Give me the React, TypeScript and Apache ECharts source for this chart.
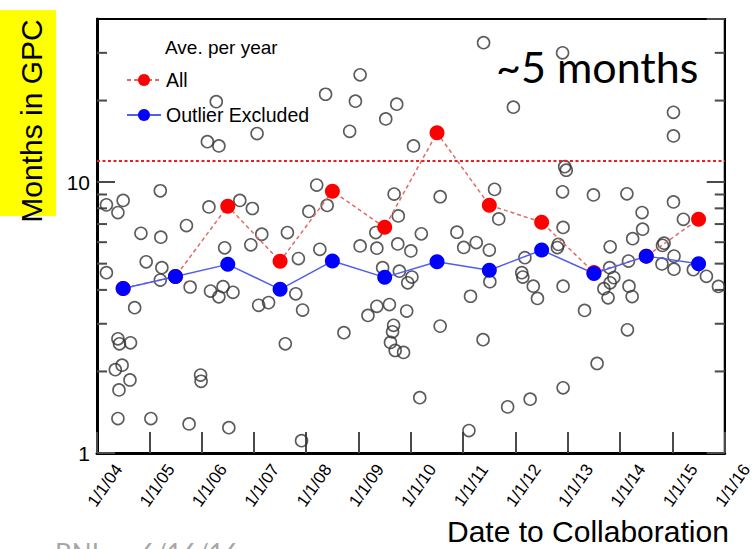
import { useEffect, useRef } from 'react';
import * as echarts from 'echarts';

// Axis bounds
const X_MIN = 2004;
const X_MAX = 2016;
const Y_MIN = 1;
const Y_MAX = 40;

// Yearly averages, plotted at mid-year
const avgYears = [2004.5, 2005.5, 2006.5, 2007.5, 2008.5, 2009.5, 2010.5, 2011.5, 2012.5, 2013.5, 2014.5, 2015.5];
const avgAll = [4.05, 4.48, 8.15, 5.1, 9.26, 6.81, 15.2, 8.22, 7.11, 4.64, 5.32, 7.29];
const avgExcluded = [4.05, 4.48, 4.97, 4.02, 5.11, 4.45, 5.08, 4.73, 5.61, 4.6, 5.33, 5.0];

// Individual projects: collaboration date (decimal year) and months in GPC
const projectDates = [
  2004.18, 2004.4, 2004.5, 2004.18, 2004.4, 2004.43, 2004.64, 2004.48, 2004.35, 2004.63,
  2004.42, 2004.4, 2004.72, 2004.84, 2004.94, 2005.03, 2005.21, 2005.22, 2005.24, 2005.21,
  2005.71, 2005.78, 2005.76, 2005.98, 2005.99, 2006.11, 2006.33, 2006.28, 2006.14, 2006.17,
  2006.41, 2006.33, 2006.6, 2006.44, 2006.52, 2006.73, 2006.97, 2006.94, 2007.15, 2007.06,
  2007.09, 2007.28, 2007.64, 2007.6, 2007.8, 2007.93, 2007.85, 2007.91, 2008.05, 2008.2,
  2008.4, 2008.26, 2008.37, 2008.72, 2008.83, 2008.94, 2009.03, 2009.03, 2009.35, 2009.33,
  2009.18, 2009.35, 2009.59, 2009.92, 2009.46, 2009.78, 2010.02, 2009.94, 2009.75, 2010.0,
  2009.67, 2009.65, 2009.61, 2009.7, 2009.86, 2009.73, 2009.52, 2010.05, 2009.68, 2009.76,
  2010.17, 2010.2, 2010.56, 2010.56, 2010.88, 2011.01, 2011.25, 2011.5, 2011.51, 2011.14,
  2011.38, 2011.11, 2011.39, 2011.96, 2011.6, 2011.68, 2011.85, 2012.18, 2012.12, 2012.14,
  2012.34, 2012.42, 2012.28, 2012.8, 2012.82, 2012.91, 2012.9, 2012.94, 2012.97, 2012.9,
  2012.91, 2012.91, 2013.32, 2013.49, 2013.56, 2013.81, 2013.8, 2013.88, 2013.81, 2013.69,
  2013.77, 2014.13, 2014.42, 2014.43, 2014.24, 2014.16, 2014.17, 2014.23, 2014.14, 2015.02,
  2015.02, 2015.02, 2015.21, 2014.84, 2014.81, 2015.03, 2014.8, 2015.03, 2015.4, 2015.65,
  2015.88,
];
const projectMonths = [
  8.24, 7.72, 8.56, 4.63, 2.64, 2.53, 2.55, 2.11, 2.03, 1.86,
  1.71, 1.34, 3.44, 6.47, 5.08, 1.34, 9.29, 6.26, 4.83, 4.35,
  6.91, 4.1, 1.28, 1.94, 1.84, 14.1, 13.6, 19.8, 8.1, 3.96,
  4.11, 3.77, 3.92, 5.72, 1.24, 8.56, 7.99, 5.87, 6.42, 15.1,
  3.51, 3.59, 6.51, 2.53, 3.87, 3.37, 5.22, 1.11, 7.79, 9.75,
  8.2, 5.65, 21.1, 2.78, 15.4, 19.9, 24.9, 5.81, 5.7, 6.51,
  3.22, 3.48, 3.53, 3.34, 4.83, 4.69, 4.46, 4.25, 5.91, 5.57,
  2.96, 2.8, 2.56, 2.39, 2.35, 19.4, 17.1, 13.6, 9.03, 7.5,
  1.6, 6.44, 8.83, 2.94, 6.53, 5.74, 5.98, 5.61, 4.29, 3.79,
  2.62, 1.21, 32.7, 18.9, 9.4, 7.31, 1.48, 5.26, 4.63, 4.46,
  4.13, 3.72, 1.58, 5.73, 5.89, 6.8, 9.21, 11.4, 11.06, 30.0,
  4.13, 1.74, 3.36, 8.97, 2.14, 5.77, 4.83, 4.44, 4.25, 4.04,
  3.74, 9.05, 7.72, 6.7, 6.18, 5.11, 4.13, 3.78, 2.85, 18.1,
  14.8, 8.45, 7.29, 5.95, 5.84, 5.33, 4.99, 4.77, 4.75, 4.49,
  4.12,
];

// Minor ticks of the log axis
const minorTickValues = [2, 3, 4, 5, 6, 7, 8, 9, 20, 30];
// One-year reference level
const referenceMonths = 12;

const FONT = "'Liberation Sans', Arial, Helvetica, sans-serif";
const SLIDE_FONT = "Lato, 'Open Sans', sans-serif";
const TICK = '#4a4a4a';

const zip = (a: number[], b: number[]) => a.map((v, i) => [v, b[i]]);

function buildOption(): echarts.EChartsOption {
  return {
    animation: false,
    backgroundColor: '#fff',
    grid: {
      left: 97,
      right: 26,
      top: 19,
      bottom: 96,
      show: true,
      borderColor: '#000',
      borderWidth: 2,
      backgroundColor: 'transparent',
    },
    legend: {
      data: ['All', 'Outlier Excluded'],
      orient: 'vertical',
      left: 126,
      top: 70,
      padding: 0,
      itemGap: 15,
      itemWidth: 34,
      itemHeight: 15,
      selectedMode: false,
      textStyle: { fontFamily: FONT, fontSize: 19.5, color: '#000' },
    },
    xAxis: {
      type: 'value',
      min: X_MIN,
      max: X_MAX,
      interval: 1,
      axisLine: { show: true, lineStyle: { color: '#000', width: 3 } },
      axisTick: { show: true, inside: true, length: 21, lineStyle: { color: TICK, width: 2 } },
      splitLine: { show: false },
      axisLabel: {
        rotate: 55,
        align: 'center',
        verticalAlign: 'middle',
        margin: 44,
        padding: [0, 0, 0, 28],
        fontFamily: FONT,
        fontSize: 17,
        color: '#000',
        showMinLabel: true,
        showMaxLabel: true,
        formatter: (v: number) => '1/1/' + String(Math.round(v) % 100).padStart(2, '0'),
      },
    },
    yAxis: [
      {
        type: 'log',
        logBase: 10,
        min: Y_MIN,
        max: Y_MAX,
        position: 'left',
        axisLine: { show: true, lineStyle: { color: '#000', width: 3 } },
        axisTick: { show: true, inside: true, length: 18, lineStyle: { color: TICK, width: 2 } },
        splitLine: { show: false },
        axisLabel: { fontFamily: FONT, fontSize: 21, color: '#000', margin: 7, showMaxLabel: false },
      },
      {
        type: 'log',
        logBase: 10,
        min: Y_MIN,
        max: Y_MAX,
        position: 'right',
        axisLine: { show: true, lineStyle: { color: '#000', width: 2 } },
        axisTick: { show: true, inside: true, length: 18, lineStyle: { color: TICK, width: 2 } },
        splitLine: { show: false },
        axisLabel: { show: false },
      },
    ],
    series: [
      {
        type: 'custom',
        name: 'minor ticks',
        silent: true,
        z: 1,
        data: minorTickValues.map((v) => [X_MIN, v]),
        renderItem: (_params: any, api: any) => {
          const v = api.value(1);
          const left = api.coord([X_MIN, v]);
          const right = api.coord([X_MAX, v]);
          const style = { stroke: TICK, lineWidth: 2 };
          return {
            type: 'group',
            children: [
              { type: 'line', shape: { x1: left[0], y1: left[1], x2: left[0] + 10, y2: left[1] }, style },
              { type: 'line', shape: { x1: right[0] - 10, y1: right[1], x2: right[0], y2: right[1] }, style },
            ],
          };
        },
      } as any,
      {
        type: 'scatter',
        name: 'Projects',
        z: 2,
        symbol: 'circle',
        symbolSize: 12,
        itemStyle: { color: 'rgba(0,0,0,0)', borderColor: '#333', borderWidth: 1.6 },
        data: zip(projectDates, projectMonths),
      },
      {
        type: 'line',
        name: 'All',
        z: 3,
        symbol: 'circle',
        symbolSize: 15,
        lineStyle: { color: '#e06a6a', width: 1.5, type: [4, 3] },
        itemStyle: { color: '#ff0000' },
        data: zip(avgYears, avgAll),
        markLine: {
          silent: true,
          symbol: ['none', 'none'],
          label: { show: false },
          lineStyle: { color: '#ee1c1c', width: 2, type: [3, 2.5] },
          data: [{ yAxis: referenceMonths }],
        },
      },
      {
        type: 'line',
        name: 'Outlier Excluded',
        z: 4,
        symbol: 'circle',
        symbolSize: 15,
        lineStyle: { color: '#4f5df0', width: 1.5 },
        itemStyle: { color: '#0000ff' },
        data: zip(avgYears, avgExcluded),
      },
    ],
    graphic: [
      { type: 'rect', z: 0, shape: { x: 0, y: 10, width: 56, height: 206 }, style: { fill: '#ffff00' } },
      {
        type: 'text',
        x: 31,
        y: 121,
        rotation: Math.PI / 2,
        style: {
          text: 'Months in GPC',
          font: `30px ${FONT}`,
          fill: '#000',
          align: 'center',
          verticalAlign: 'middle',
        },
      },
      { type: 'text', left: 165, top: 38, style: { text: 'Ave. per year', font: `19px ${FONT}`, fill: '#000' } },
      { type: 'text', left: 496, top: 45, z: 10, style: { text: '~5 months', font: `43px ${SLIDE_FONT}`, fill: '#000' } },
      { type: 'text', left: 447, top: 516, style: { text: 'Date to Collaboration', font: `30px ${FONT}`, fill: '#000' } },
      { type: 'text', left: 55, top: 540, style: { text: 'BNL', font: `26px ${SLIDE_FONT}`, fill: '#a6a6a6' } },
      { type: 'text', left: 140, top: 540, style: { text: '6/16/16', font: `26px ${SLIDE_FONT}`, fill: '#a6a6a6' } },
    ],
  } as echarts.EChartsOption;
}

export default function App() {
  const ref = useRef<HTMLDivElement>(null);
  useEffect(() => {
    if (!ref.current) return;
    const chart = echarts.init(ref.current, undefined, { renderer: 'svg' });
    chart.setOption(buildOption());
    return () => chart.dispose();
  }, []);
  return (
    <div
      ref={ref}
      style={{ position: 'fixed', left: 0, top: 0, width: 755, height: 549, background: '#fff' }}
    />
  );
}
